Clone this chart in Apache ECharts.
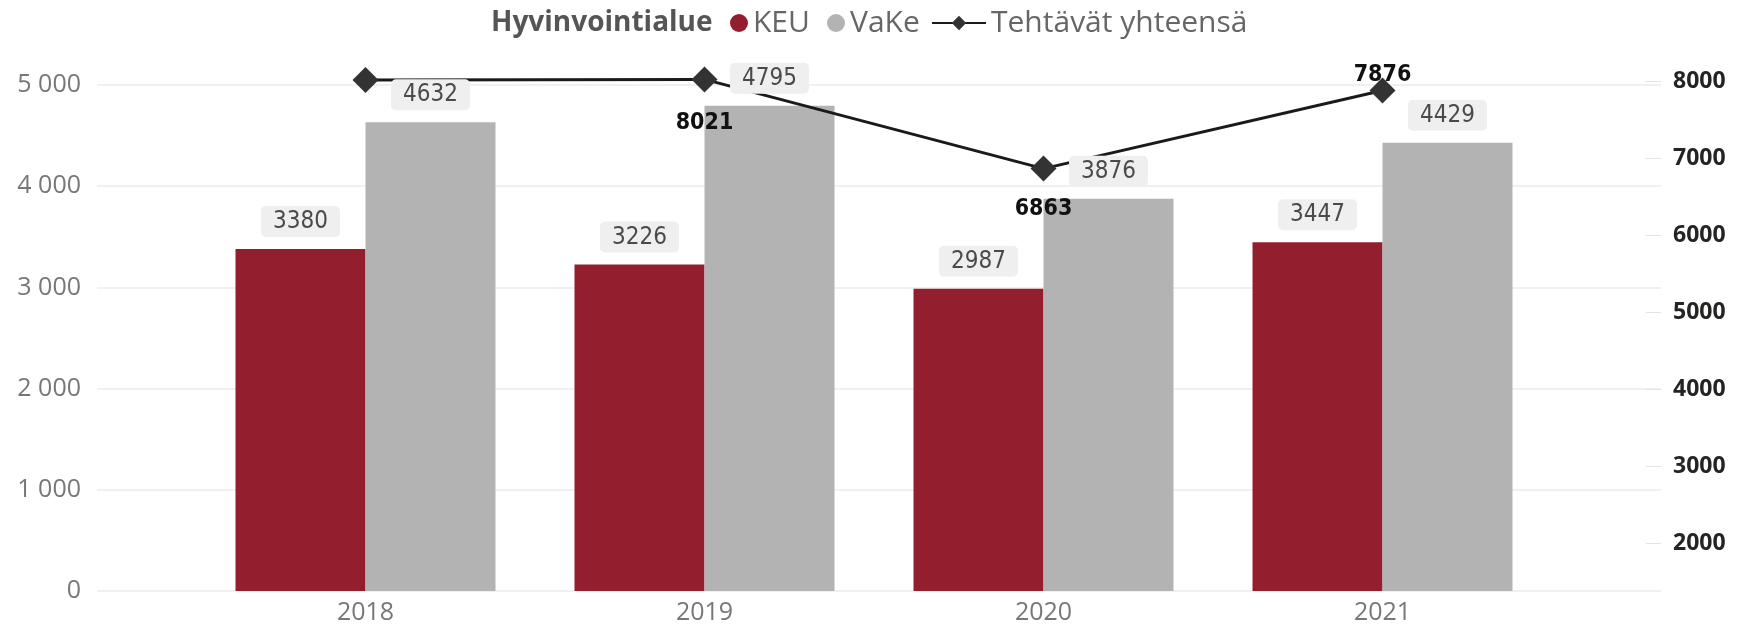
<!DOCTYPE html>
<html>
<head>
<meta charset="utf-8">
<script src="https://cdn.jsdelivr.net/npm/echarts@6/dist/echarts.min.js"></script>
<style>
html,body{margin:0;padding:0;background:#fff;}
#chart{width:1739px;height:627px;}
</style>
</head>
<body>
<div id="chart"></div>
<script>
const categories = ['2018', '2019', '2020', '2021'];
const keuValues = [3380, 3226, 2987, 3447];
const vakeValues = [4632, 4795, 3876, 4429];
const totalValues = [8012, 8021, 6863, 7876];
const leftTicks = [0, 1000, 2000, 3000, 4000, 5000];
const rightTicks = [2000, 3000, 4000, 5000, 6000, 7000, 8000];
const legendTitle = 'Hyvinvointialue';
const seriesNames = ['KEU', 'VaKe', 'Tehtävät yhteensä'];

// label placement for the line points (style, not data)
const lineLabelPlacement = [
  { show: false },
  { show: true, position: 'bottom', distance: 19 },
  { show: true, position: 'bottom', distance: 16 },
  { show: true, position: 'top', distance: -9 }
];

const UI_FONT = "'Segoe UI', 'Open Sans', sans-serif";
const NUM_FONT = "'DejaVu Sans Condensed', 'DejaVu Sans', sans-serif";

const chart = echarts.init(document.getElementById('chart'), null, { renderer: 'canvas' });

const fmtSpace = v => String(v).replace(/\B(?=(\d{3})+(?!\d))/g, ' ');

const barLabel = {
  show: true,
  position: 'top',
  distance: 12,
  fontFamily: NUM_FONT,
  fontSize: 24,
  color: '#4a4a4a',
  backgroundColor: '#efefef',
  borderRadius: 5,
  padding: [4, 12, 3, 12]
};

const legendText = { fontFamily: UI_FONT, fontSize: 30, color: '#666666' };

const option = {
  backgroundColor: '#ffffff',
  animation: false,
  title: {
    text: legendTitle,
    left: 491,
    top: 9,
    padding: 0,
    textStyle: { fontFamily: UI_FONT, fontWeight: 'bold', fontSize: 28, color: '#555555' }
  },
  legend: [
    {
      data: [seriesNames[0]], left: 730, top: 8, padding: 0, icon: 'circle',
      itemWidth: 18, itemHeight: 18, textStyle: legendText
    },
    {
      data: [seriesNames[1]], left: 827, top: 8, padding: 0, icon: 'circle',
      itemWidth: 18, itemHeight: 18, textStyle: legendText
    },
    {
      data: [seriesNames[2]], left: 931, top: 8, padding: 0,
      itemWidth: 54, itemHeight: 18, textStyle: legendText
    }
  ],
  grid: [
    { left: 97, right: 78, top: 85, bottom: 36 },
    { left: 196, right: 187, top: 85, bottom: 36 },
    { left: 196, right: 187, top: 78, bottom: 36 },
    { left: 196, right: 187, top: 85, bottom: 36 }
  ],
  xAxis: [
    {
      gridIndex: 0, type: 'category', data: categories,
      axisLine: { show: false }, axisTick: { show: false }, axisLabel: { show: false }
    },
    {
      gridIndex: 1, type: 'category', data: categories,
      axisLine: { show: false }, axisTick: { show: false },
      axisLabel: { fontFamily: UI_FONT, fontSize: 25, color: '#777777', margin: 9 }
    },
    { gridIndex: 2, type: 'category', data: categories, show: false },
    { gridIndex: 3, type: 'category', data: categories, show: false }
  ],
  yAxis: [
    {
      gridIndex: 0, type: 'value', min: leftTicks[0], max: leftTicks[leftTicks.length - 1], interval: 1000,
      axisLine: { show: false }, axisTick: { show: false },
      axisLabel: { fontFamily: UI_FONT, fontSize: 25, color: '#777777', margin: 16, formatter: fmtSpace },
      splitLine: { lineStyle: { color: '#ebebeb', width: 1.5 } }
    },
    {
      gridIndex: 1, type: 'value', min: leftTicks[0], max: leftTicks[leftTicks.length - 1], show: false,
      splitLine: { show: false }
    },
    {
      gridIndex: 2, type: 'value', position: 'right', min: 1382, max: 8039, offset: 109,
      axisLine: { show: false },
      axisTick: { show: true, inside: true, length: 15, lineStyle: { color: '#e3e3e3' }, customValues: rightTicks },
      axisLabel: {
        fontFamily: UI_FONT, fontWeight: 'bold', fontSize: 23, color: '#252423', margin: 12,
        customValues: rightTicks, formatter: v => String(v)
      },
      splitLine: { show: false }
    },
    {
      gridIndex: 3, type: 'value', min: leftTicks[0], max: leftTicks[leftTicks.length - 1], show: false,
      splitLine: { show: false }
    }
  ],
  series: [
    {
      name: seriesNames[0], type: 'bar', xAxisIndex: 1, yAxisIndex: 1,
      data: keuValues, barWidth: 130, barGap: '0%',
      itemStyle: { color: '#931f2e' }, z: 2
    },
    {
      name: seriesNames[1], type: 'bar', xAxisIndex: 1, yAxisIndex: 1,
      data: vakeValues, barWidth: 130, barGap: '0%',
      itemStyle: { color: '#b3b3b3' }, z: 2
    },
    {
      name: seriesNames[2], type: 'line', xAxisIndex: 2, yAxisIndex: 2,
      data: totalValues.map((v, i) => ({ value: v, label: lineLabelPlacement[i] })),
      symbol: 'diamond', symbolSize: 26, clip: false,
      lineStyle: { color: '#1a1a1a', width: 3 },
      itemStyle: { color: '#333333' },
      label: { fontFamily: NUM_FONT, fontWeight: 'bold', fontSize: 23, color: '#111111' },
      z: 3
    },
    // value-label layers for the bars, drawn above the line
    {
      name: 'KEU-label', type: 'bar', xAxisIndex: 3, yAxisIndex: 3,
      data: keuValues, barWidth: 130, barGap: '0%', silent: true,
      itemStyle: { color: 'rgba(0,0,0,0)' }, label: barLabel, z: 4
    },
    {
      name: 'VaKe-label', type: 'bar', xAxisIndex: 3, yAxisIndex: 3,
      data: vakeValues, barWidth: 130, barGap: '0%', silent: true,
      itemStyle: { color: 'rgba(0,0,0,0)' }, label: barLabel, z: 4
    }
  ]
};

chart.setOption(option);
</script>
</body>
</html>
